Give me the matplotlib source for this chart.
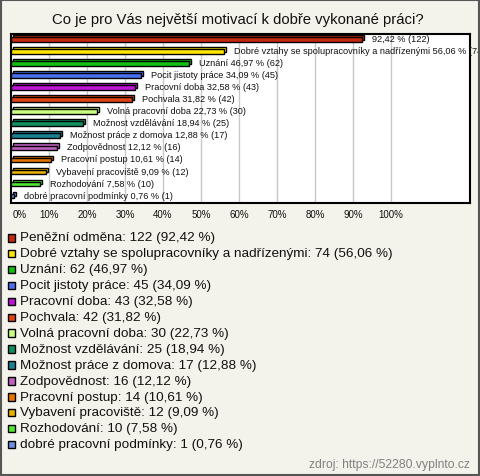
import matplotlib
matplotlib.use("Agg")
import matplotlib.pyplot as plt
from matplotlib.patches import Rectangle

plt.rcParams['font.family'] = ['Liberation Sans', 'DejaVu Sans']

title = "Co je pro Vás největší motivací k dobře vykonané práci?"
categories = [
    "Peněžní odměna",
    "Dobré vztahy se spolupracovníky a nadřízenými",
    "Uznání",
    "Pocit jistoty práce",
    "Pracovní doba",
    "Pochvala",
    "Volná pracovní doba",
    "Možnost vzdělávání",
    "Možnost práce z domova",
    "Zodpovědnost",
    "Pracovní postup",
    "Vybavení pracoviště",
    "Rozhodování",
    "dobré pracovní podmínky",
]
counts = [122, 74, 62, 45, 43, 42, 30, 25, 17, 16, 14, 12, 10, 1]
percents = [92.42, 56.06, 46.97, 34.09, 32.58, 31.82, 22.73, 18.94, 12.88, 12.12, 10.61, 9.09, 7.58, 0.76]
show_name_in_bar = [False] + [True] * 13
colors = ["#c4280e", "#ffe600", "#12c012", "#4a70f0", "#c012d8", "#e04412",
          "#c8ff80", "#109060", "#1a8092", "#c060c0", "#e87400", "#e8b000",
          "#50e830", "#6a90e0"]
xticks = [0, 10, 20, 30, 40, 50, 60, 70, 80, 90, 100]
xtick_labels = ["0%", "10%", "20%", "30%", "40%", "50%", "60%", "70%", "80%", "90%", "100%"]
source = "zdroj: https://52280.vyplnto.cz"

def fmt(v):
    return f"{v:.2f}".replace(".", ",")

W, H = 480, 477
fig = plt.figure(figsize=(W / 100, H / 100), dpi=100)
fig.patch.set_facecolor("#f4f3eb")
fig.add_artist(Rectangle((0.002, 0.002), 0.996, 0.996, transform=fig.transFigure,
                         fill=False, edgecolor="#555555", linewidth=1.5))

fig.text(238 / W, 1 - 20 / H, title, ha="center", va="center", fontsize=10.7, color="#111111")

ax = fig.add_axes([11 / W, 1 - 204 / H, 459 / W, 169 / H])
ax.set_facecolor("white")
xmax = 100 * 459 / 380
ax.set_xlim(0, xmax)
n = len(categories)
ax.set_ylim(n - 1 + 0.58, -0.47)

for x in xticks[1:]:
    ax.axvline(x, color="#c8c8c8", linewidth=1, zorder=0)

h = 0.4
dx = 2 / 3.8
dy = 2 / 12
ys = list(range(n))
ax.barh([y - dy for y in ys], percents, left=dx, height=h, color=colors,
        edgecolor="black", linewidth=1, zorder=2)
ax.barh(ys, percents, height=h, color=colors, edgecolor="black", linewidth=1, zorder=3)

for i, (name, cnt, pct, show) in enumerate(zip(categories, counts, percents, show_name_in_bar)):
    label = (f"{name} " if show else "") + f"{fmt(pct)} % ({cnt})"
    ax.text(pct + 10 / 3.8, i - 0.08, label, ha="left", va="center", fontsize=6.6,
            color="#111111", clip_on=False, zorder=4)

ax.set_xticks([])
ax.set_yticks([])
for s in ax.spines.values():
    s.set_linewidth(1.5)
    s.set_color("black")

for x, lab in zip(xticks, xtick_labels):
    ha = "left" if x == 0 else "center"
    xpos = 0.3 if x == 0 else x
    ax.text(xpos, n - 1 + 0.58 + 11 / 12, lab, ha=ha, va="center", fontsize=7, color="#111111",
            clip_on=False)

# legend
for i, (name, cnt, pct, c) in enumerate(zip(categories, counts, percents, colors)):
    yc = 238.5 + i * 15.9
    fig.add_artist(Rectangle((7.5 / W, 1 - (yc + 4) / H), 7.5 / W, 7.5 / H, transform=fig.transFigure,
                             facecolor=c, edgecolor="black", linewidth=1))
    fig.text(19.5 / W, 1 - yc / H, f"{name}: {cnt} ({fmt(pct)} %)", ha="left", va="center",
             fontsize=9.7, color="#111111")

fig.text(470 / W, 1 - 465 / H, source, ha="right", va="center", fontsize=8.7, color="#808080")

fig.savefig("out.png", dpi=100, facecolor=fig.get_facecolor())
